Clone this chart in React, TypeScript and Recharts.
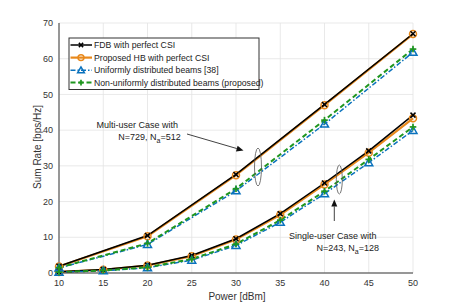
import React from 'react';
import { LineChart, Line, XAxis, YAxis, CartesianGrid } from 'recharts';

const powers = [10, 15, 20, 25, 30, 35, 40, 45, 50];
const multiPowers = [10, 20, 30, 40, 50];
const multiFDB = [1.9, 10.5, 27.6, 47.2, 67.0];
const multiHB = [1.8, 10.3, 27.4, 47.0, 66.9];
const multiUniform = [1.4, 8.0, 23.0, 41.7, 61.8];
const multiNonUniform = [1.5, 8.3, 23.6, 42.8, 62.7];
const singleFDB = [0.35, 0.95, 2.2, 4.9, 9.6, 16.6, 25.2, 34.2, 44.2];
const singleHB = [0.3, 0.9, 2.1, 4.7, 9.35, 16.3, 24.8, 33.7, 43.3];
const singleUniform = [0.2, 0.6, 1.5, 3.6, 7.7, 14.2, 22.2, 30.9, 39.9];
const singleNonUniform = [0.25, 0.7, 1.6, 3.9, 8.1, 14.8, 22.9, 31.8, 40.9];
const xTicks = [10, 15, 20, 25, 30, 35, 40, 45, 50];
const yTicks = [0, 10, 20, 30, 40, 50, 60, 70];
const legendNames = [
  'FDB with perfect CSI',
  'Proposed HB with perfect CSI',
  'Uniformly distributed beams [38]',
  'Non-uniformly distributed beams (proposed)',
];

const C_BLACK = '#000000';
const C_ORANGE = '#E8891C';
const C_BLUE = '#0A72BD';
const C_GREEN = '#1F961F';
const AX = '#3a3a3a';
const FONT = '"Liberation Sans", Arial, Helvetica, sans-serif';

const data = powers.map((p, i) => {
  const mi = multiPowers.indexOf(p);
  return {
    power: p,
    mFDB: mi >= 0 ? multiFDB[mi] : null,
    mHB: mi >= 0 ? multiHB[mi] : null,
    mU: mi >= 0 ? multiUniform[mi] : null,
    mN: mi >= 0 ? multiNonUniform[mi] : null,
    sFDB: singleFDB[i],
    sHB: singleHB[i],
    sU: singleUniform[i],
    sN: singleNonUniform[i],
  };
});

type MK = 'x' | 'o' | 'tri' | 'plus';

function Marker({ kind, cx, cy, color, k = 1 }: { kind: MK; cx: number; cy: number; color: string; k?: number }) {
  if (kind === 'x') {
    const s = 2.5 * k;
    return (
      <g stroke={color} strokeWidth={1.5}>
        <line x1={cx - s} y1={cy - s} x2={cx + s} y2={cy + s} />
        <line x1={cx - s} y1={cy + s} x2={cx + s} y2={cy - s} />
      </g>
    );
  }
  if (kind === 'o') {
    return <circle cx={cx} cy={cy} r={3.5 * k} fill="none" stroke={color} strokeWidth={1.5} />;
  }
  if (kind === 'tri') {
    const s = 4 * k;
    return (
      <polygon
        points={`${cx},${cy - s} ${cx - s},${cy + s * 0.75} ${cx + s},${cy + s * 0.75}`}
        fill="none"
        stroke={color}
        strokeWidth={1.5}
      />
    );
  }
  const s = 3.3 * k;
  return (
    <g stroke={color} strokeWidth={1.7}>
      <line x1={cx - s} y1={cy} x2={cx + s} y2={cy} />
      <line x1={cx} y1={cy - s} x2={cx} y2={cy + s} />
    </g>
  );
}

const makeDot = (kind: MK, color: string) => (props: any) => {
  const { cx, cy, value, index } = props;
  if (value == null || cx == null || cy == null || Number.isNaN(cy)) return <g key={`e${index}`} />;
  return (
    <g key={`d${index}`}>
      <Marker kind={kind} cx={cx} cy={cy} color={color} />
    </g>
  );
};

const seriesStyle: { color: string; width: number; dash?: string; kind: MK }[] = [
  { color: C_BLACK, width: 1.5, kind: 'x' },
  { color: C_ORANGE, width: 2.2, kind: 'o' },
  { color: C_BLUE, width: 1.5, dash: '5 2 1.5 2', kind: 'tri' },
  { color: C_GREEN, width: 2, dash: '5 3', kind: 'plus' },
];

function LegendBox() {
  const rows = [7, 19.6, 32.3, 44.6];
  return (
    <g transform="translate(69,38)">
      <rect x={0} y={0} width={190} height={51.5} fill="#fff" stroke="#333" strokeWidth={1} />
      {legendNames.map((n, i) => {
        const st = seriesStyle[i];
        const y = rows[i];
        return (
          <g key={n}>
            <line x1={1.5} y1={y} x2={23} y2={y} stroke={st.color} strokeWidth={st.width} strokeDasharray={st.dash} />
            <Marker kind={st.kind} cx={12} cy={y} color={st.color} k={0.85} />
            <text x={25} y={y + 3.1} fontSize={8.7} fill="#222" fontFamily={FONT}>
              {n}
            </text>
          </g>
        );
      })}
    </g>
  );
}

function Arrow({ x1, y1, x2, y2 }: { x1: number; y1: number; x2: number; y2: number }) {
  const ang = Math.atan2(y2 - y1, x2 - x1);
  const L = 7;
  const W = 3;
  const bx = x2 - L * Math.cos(ang);
  const by = y2 - L * Math.sin(ang);
  const px = -Math.sin(ang) * W;
  const py = Math.cos(ang) * W;
  return (
    <g>
      <line x1={x1} y1={y1} x2={bx} y2={by} stroke="#111" strokeWidth={0.8} />
      <polygon points={`${x2},${y2} ${bx + px},${by + py} ${bx - px},${by - py}`} fill="#111" />
    </g>
  );
}

function Overlay() {
  return (
    <svg
      width={457}
      height={306}
      style={{ position: 'absolute', left: 0, top: 0, pointerEvents: 'none' }}
      fontFamily={FONT}
    >
      <LegendBox />
      <text x={96.5} y={128.2} fontSize={9} fill="#222">Multi-user Case with</text>
      <text x={118.3} y={139.8} fontSize={9} fill="#222">
        <tspan>N=729, N</tspan>
        <tspan dy={3} fontSize={7}>a</tspan>
        <tspan dy={-3}>=512</tspan>
      </text>
      <Arrow x1={187} y1={134} x2={243.5} y2={150.5} />
      <ellipse cx={258} cy={167} rx={3.5} ry={19} fill="none" stroke="#555" strokeWidth={0.8} />

      <text x={289} y={239.3} fontSize={9} fill="#222">Single-user Case with</text>
      <text x={316.5} y={251} fontSize={9} fill="#222">
        <tspan>N=243, N</tspan>
        <tspan dy={3} fontSize={7}>a</tspan>
        <tspan dy={-3}>=128</tspan>
      </text>
      <Arrow x1={334.3} y1={221} x2={334.3} y2={199.5} />
      <ellipse cx={339.3} cy={179.5} rx={3} ry={14.5} fill="none" stroke="#555" strokeWidth={0.8} />

      <text x={237} y={300} fontSize={10} fill="#333" textAnchor="middle">Power [dBm]</text>
      <text
        x={40.5}
        y={147}
        fontSize={10}
        fill="#333"
        textAnchor="middle"
        transform="rotate(-90 40.5 147)"
      >
        Sum Rate [bps/Hz]
      </text>
    </svg>
  );
}

const lineDefs: { key: string; s: number }[] = [
  { key: 'mHB', s: 1 },
  { key: 'sHB', s: 1 },
  { key: 'mFDB', s: 0 },
  { key: 'sFDB', s: 0 },
  { key: 'mU', s: 2 },
  { key: 'sU', s: 2 },
  { key: 'mN', s: 3 },
  { key: 'sN', s: 3 },
];

export default function App() {
  const tickStyle = { fontSize: 9, fill: '#333', fontFamily: FONT };
  return (
    <div style={{ position: 'absolute', left: 0, top: 0, width: 457, height: 306, background: '#fff', fontFamily: FONT }}>
      <LineChart width={457} height={306} data={data} margin={{ top: 23, right: 44, bottom: 0, left: 0 }}>
        <CartesianGrid stroke="#e3e3e3" strokeWidth={0.8} />
        <XAxis
          dataKey="power"
          type="number"
          domain={[10, 50]}
          ticks={xTicks}
          height={33}
          tickLine={false}
          tickSize={5}
          axisLine={{ stroke: AX }}
          tick={tickStyle}
          interval={0}
        />
        <XAxis
          xAxisId="bm"
          dataKey="power"
          type="number"
          domain={[10, 50]}
          ticks={xTicks}
          orientation="bottom"
          mirror
          tick={false}
          tickSize={3}
          tickLine={{ stroke: AX }}
          axisLine={false}
          height={0}
        />
        <XAxis
          xAxisId="top"
          dataKey="power"
          type="number"
          domain={[10, 50]}
          ticks={xTicks}
          orientation="top"
          mirror
          tick={false}
          tickSize={3}
          tickLine={{ stroke: AX }}
          axisLine={{ stroke: AX }}
          height={0}
        />
        <YAxis
          type="number"
          domain={[0, 70]}
          ticks={yTicks}
          width={59}
          tickLine={false}
          tickSize={4}
          axisLine={{ stroke: AX }}
          tick={tickStyle}
          interval={0}
        />
        <YAxis
          yAxisId="lm"
          type="number"
          domain={[0, 70]}
          ticks={yTicks}
          orientation="left"
          mirror
          tick={false}
          tickSize={3}
          tickLine={{ stroke: AX }}
          axisLine={false}
          width={0}
        />
        <YAxis
          yAxisId="right"
          type="number"
          domain={[0, 70]}
          ticks={yTicks}
          orientation="right"
          mirror
          tick={false}
          tickSize={3}
          tickLine={{ stroke: AX }}
          axisLine={{ stroke: AX }}
          width={0}
        />
        {lineDefs.map((d) => {
          const st = seriesStyle[d.s];
          return (
            <Line
              key={d.key}
              dataKey={d.key}
              type="linear"
              stroke={st.color}
              strokeWidth={st.width}
              strokeDasharray={st.dash}
              dot={makeDot(st.kind, st.color)}
              activeDot={false}
              connectNulls
              isAnimationActive={false}
            />
          );
        })}
      </LineChart>
      <Overlay />
    </div>
  );
}
